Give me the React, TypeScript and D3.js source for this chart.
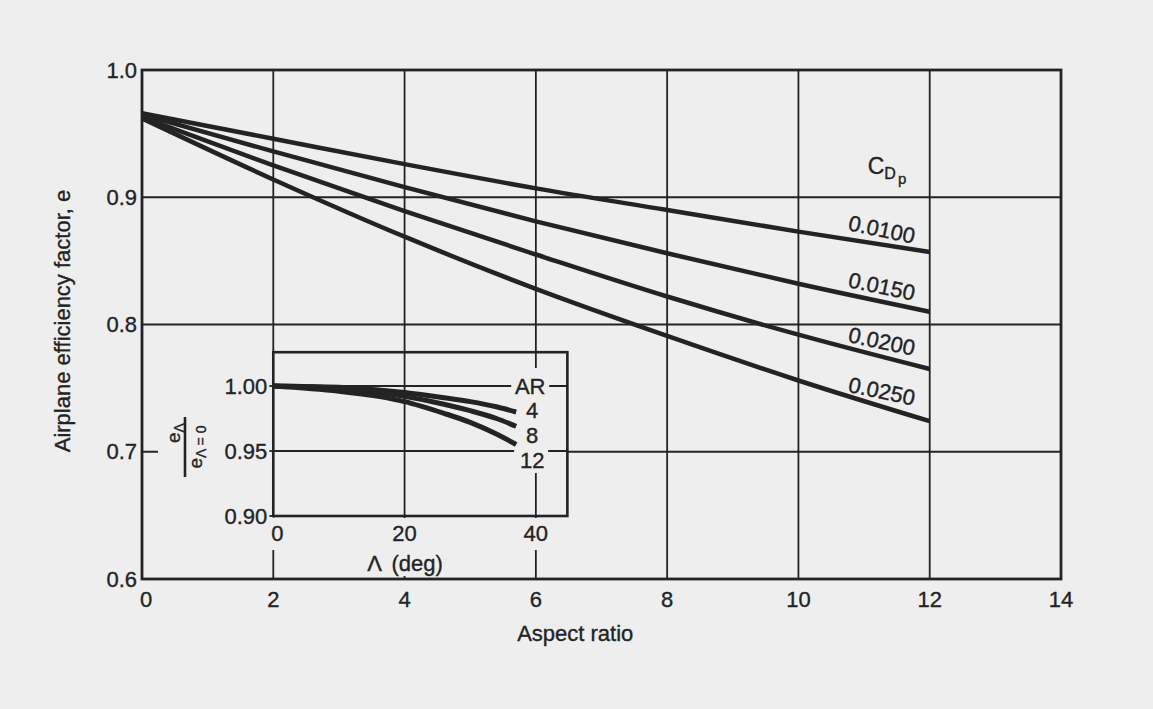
import * as d3 from "d3";

// main chart: efficiency factor vs aspect ratio, one line per parasite drag coefficient
const aspectRatios = [0, 2, 4, 6, 8, 10, 12];
const cdpLabels = ["0.0100", "0.0150", "0.0200", "0.0250"];
const eCdp0100 = [0.966, 0.946, 0.926, 0.907, 0.89, 0.873, 0.857];
const eCdp0150 = [0.965, 0.936, 0.908, 0.881, 0.856, 0.832, 0.81];
const eCdp0200 = [0.963, 0.925, 0.889, 0.855, 0.822, 0.792, 0.765];
const eCdp0250 = [0.962, 0.914, 0.869, 0.828, 0.791, 0.756, 0.724];
const mainXTicks = [0, 2, 4, 6, 8, 10, 12, 14];
const mainYTicks = [0.6, 0.7, 0.8, 0.9, 1.0];

// inset: sweep correction e_Λ / e_Λ=0
const sweepDeg = [0, 10, 16, 20, 26, 30, 34, 37];
const arLabels = ["4", "8", "12"];
const ratioAR4 = [1.0, 0.999, 0.997, 0.995, 0.991, 0.988, 0.984, 0.98];
const ratioAR8 = [1.0, 0.998, 0.995, 0.992, 0.986, 0.981, 0.975, 0.969];
const ratioAR12 = [1.0, 0.996, 0.992, 0.988, 0.979, 0.972, 0.963, 0.955];
const insetXTicks = [0, 20, 40];
const insetYTicks = [0.9, 0.95, 1.0];

const W = 1153;
const H = 709;
const paper = "#eeeeee";
const ink = "#232323";
const font = "'Liberation Sans', Arial, Helvetica, sans-serif";

export default function App() {
  const x = d3.scaleLinear().domain([0, 14]).range([142, 1061]);
  const y = d3.scaleLinear().domain([0.6, 1.0]).range([579, 70]);

  const ix = d3.scaleLinear().domain([0, 40]).range([x(2), x(6)]);
  const iy = d3.scaleLinear().domain([0.9, 1.0]).range([516, 386]);

  const mainSeries = [eCdp0100, eCdp0150, eCdp0200, eCdp0250];
  const insetSeries = [ratioAR4, ratioAR8, ratioAR12];

  const mainLine = d3
    .line<number>()
    .x((_, i) => x(aspectRatios[i]))
    .y((d) => y(d))
    .curve(d3.curveMonotoneX);

  const insetLine = d3
    .line<number>()
    .x((_, i) => ix(sweepDeg[i]))
    .y((d) => iy(d))
    .curve(d3.curveMonotoneX);

  const boxL = ix(0);
  const boxR = ix(44.8);
  const boxT = iy(1.026);
  const boxB = iy(0.9);
  const labelX = ix(37) + 14;

  // where the CDp labels sit along each line
  const labelAR = 11.27;
  const labelPos = mainSeries.map((s) => {
    const n = s.length;
    const e = d3.scaleLinear().domain([aspectRatios[n - 2], aspectRatios[n - 1]]).range([s[n - 2], s[n - 1]])(labelAR);
    return [x(labelAR), y(e) - 15];
  });

  const txt = { fill: ink, stroke: ink, strokeWidth: 0.35 };

  return (
    <svg
      width={W}
      height={H}
      style={{ position: "absolute", left: 0, top: 0, display: "block" }}
      fontFamily={font}
    >
      <rect x={0} y={0} width={W} height={H} fill={paper} />

      {/* main grid */}
      <g stroke={ink} strokeWidth={1.8}>
        {mainXTicks.slice(1, -1).map((t) => (
          <line key={"gx" + t} x1={x(t)} x2={x(t)} y1={y(1.0)} y2={y(0.6)} />
        ))}
        {mainYTicks.slice(1, -1).map((t) => (
          <line key={"gy" + t} x1={x(0)} x2={x(14)} y1={y(t)} y2={y(t)} />
        ))}
      </g>

      {/* main curves */}
      {mainSeries.map((s, i) => (
        <path key={"m" + i} d={mainLine(s) || ""} fill="none" stroke={ink} strokeWidth={4.5} />
      ))}

      {/* curve labels */}
      {mainSeries.map((s, i) => (
        <text
          key={"ml" + i}
          transform={`translate(${labelPos[i][0]},${labelPos[i][1]}) rotate(12)`}
          textAnchor="middle"
          dominantBaseline="central"
          fontSize={22}
          {...txt}
        >
          {cdpLabels[i]}
        </text>
      ))}
      <text x={x(12) - 62} y={y(0.9) - 23} fontSize={23} {...txt}>
        C
        <tspan fontSize={16} dy={5}>
          D
        </tspan>
        <tspan fontSize={15} dy={5} dx={2}>
          p
        </tspan>
      </text>

      {/* main axes labels */}
      {mainXTicks.map((t) => (
        <text key={"xt" + t} x={x(t) + (t === 0 ? 4 : 0)} y={607} textAnchor="middle" fontSize={22} {...txt}>
          {t}
        </text>
      ))}
      {mainYTicks.map((t) => (
        <text
          key={"yt" + t}
          x={137}
          y={y(t)}
          textAnchor="end"
          dominantBaseline="central"
          fontSize={22}
          {...txt}
        >
          {t.toFixed(1)}
        </text>
      ))}
      <text x={x(6.6)} y={641} textAnchor="middle" fontSize={22} {...txt}>
        Aspect ratio
      </text>
      <text
        transform="translate(62,321) rotate(-90)"
        textAnchor="middle"
        dominantBaseline="central"
        fontSize={22}
        {...txt}
      >
        Airplane efficiency factor, e
      </text>

      {/* inset */}
      <g>
        <rect x={158} y={iy(1.0) - 14} width={boxL - 158} height={boxB + 12 - (iy(1.0) - 14)} fill={paper} />
        <rect x={boxL} y={boxT} width={boxR - boxL} height={boxB - boxT} fill={paper} />
        <g stroke={ink} strokeWidth={1.8}>
          {insetYTicks.slice(1).map((t) => (
            <line key={"igy" + t} x1={boxL} x2={boxR} y1={iy(t)} y2={iy(t)} />
          ))}
          {insetXTicks.slice(1).map((t) => (
            <line key={"igx" + t} x1={ix(t)} x2={ix(t)} y1={boxT} y2={boxB} />
          ))}
          {insetYTicks.map((t) => (
            <line key={"ity" + t} x1={boxL - 4} x2={boxL} y1={iy(t)} y2={iy(t)} />
          ))}
        </g>

        {/* label backgrounds */}
        <rect x={ix(40) - 3} y={iy(1.0) - 18} width={6} height={iy(0.95) + 22 - (iy(1.0) - 18)} fill={paper} />
        <rect x={labelX - 19} y={iy(1.0) - 10} width={38} height={20} fill={paper} />
        {arLabels.map((l, i) => (
          <rect
            key={"lb" + l}
            x={labelX - 16}
            y={iy(1.0) + 25 * (i + 1) - 11}
            width={34}
            height={21}
            fill={paper}
          />
        ))}

        {insetSeries.map((s, i) => (
          <path key={"is" + i} d={insetLine(s) || ""} fill="none" stroke={ink} strokeWidth={5} />
        ))}

        <text
          x={labelX}
          y={iy(1.0)}
          textAnchor="middle"
          dominantBaseline="central"
          fontSize={22}
          {...txt}
        >
          AR
        </text>
        {arLabels.map((l, i) => (
          <text
            key={"al" + l}
            x={labelX + 2}
            y={iy(1.0) + 25 * (i + 1) - 1}
            textAnchor="middle"
            dominantBaseline="central"
            fontSize={22}
            {...txt}
          >
            {l}
          </text>
        ))}

        <rect
          x={boxL}
          y={boxT}
          width={boxR - boxL}
          height={boxB - boxT}
          fill="none"
          stroke={ink}
          strokeWidth={2.6}
        />

        {/* inset tick labels */}
        {insetXTicks.map((t) => (
          <g key={"ixt" + t}>
            <rect x={ix(t) - 15} y={boxB + 2} width={30} height={32} fill={paper} />
            <text x={ix(t) + (t === 0 ? 4 : 0)} y={boxB + 25} textAnchor="middle" fontSize={22} {...txt}>
              {t}
            </text>
          </g>
        ))}
        {insetYTicks.map((t) => (
          <text
            key={"iyt" + t}
            x={boxL - 6}
            y={iy(t)}
            textAnchor="end"
            dominantBaseline="central"
            fontSize={22}
            {...txt}
          >
            {t.toFixed(2)}
          </text>
        ))}
        <rect x={ix(14)} y={boxB + 34} width={90} height={26} fill={paper} />
        <text x={ix(14.3)} y={boxB + 55} fontSize={22} {...txt}>
          Λ
        </text>
        <text x={ix(18)} y={boxB + 55} fontSize={22} {...txt}>
          (deg)
        </text>

        {/* rotated fraction e_Λ / e_Λ=0 */}
        <g transform={`translate(185,${iy(0.95) - 4}) rotate(-90)`}>
          <line x1={-30} x2={30} y1={0} y2={0} stroke={ink} strokeWidth={2.6} />
          <text x={14} y={-5} textAnchor="middle" fontSize={19} {...txt}>
            e
            <tspan fontSize={14} dy={4}>
              Λ
            </tspan>
          </text>
          <text x={0} y={17} textAnchor="middle" fontSize={19} {...txt}>
            e
            <tspan fontSize={14} dy={4}>
              Λ = 0
            </tspan>
          </text>
        </g>
      </g>

      {/* main frame on top */}
      <rect
        x={x(0)}
        y={y(1.0)}
        width={x(14) - x(0)}
        height={y(0.6) - y(1.0)}
        fill="none"
        stroke={ink}
        strokeWidth={2.8}
      />
    </svg>
  );
}
